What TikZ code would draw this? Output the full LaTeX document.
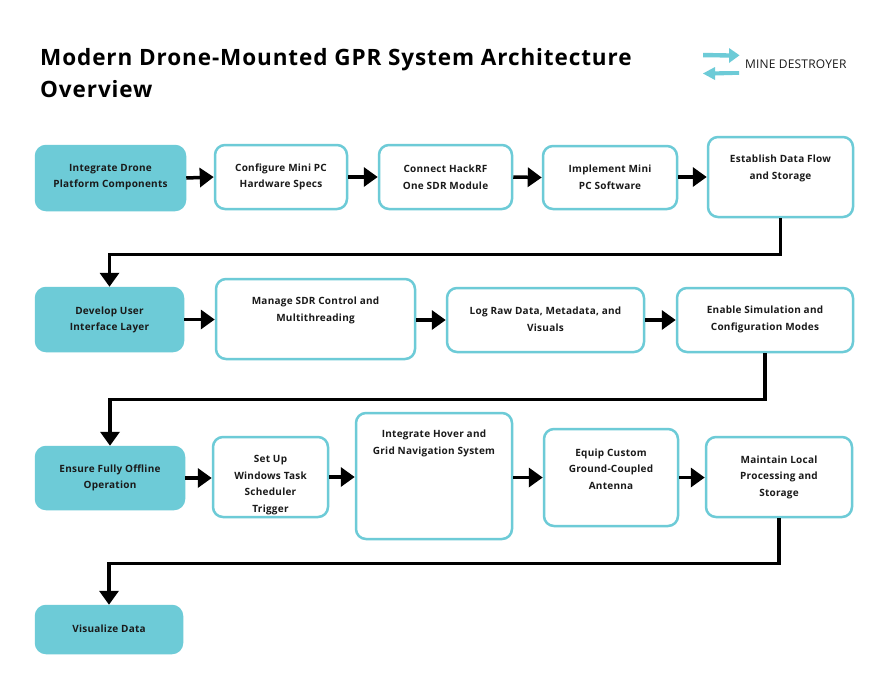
\documentclass[tikz,border=0pt]{standalone}
\usepackage{fontspec}
\setmainfont{Open Sans}
\usetikzlibrary{arrows.meta}
\definecolor{teal1}{HTML}{6DCBD7}
\definecolor{ink}{HTML}{1A1A1A}
\tikzset{
  box/.style={draw=teal1, line width=2.5pt, rounded corners=10pt, fill=white, inner sep=0pt},
  fbox/.style={box, fill=teal1},
  btext/.style={align=center, text=ink, font=\bfseries\fontsize{10}{16.6}\selectfont\addfontfeatures{LetterSpace=2.5}, inner sep=0pt},
  conn/.style={line width=3.5pt, -{Triangle[length=14pt,width=19pt]}},
  logoarrow/.style={fill=teal1, draw=none},
  ttext/.style={anchor=base west, inner sep=0pt, font=\bfseries\fontsize{22.5}{30}\selectfont\addfontfeatures{LetterSpace=4}},
}
\newcommand{\stepbox}[8]{%
  \node[#1, minimum width=#5pt, minimum height=#6pt] (#2) at (#3,#4) {};
  \node[btext] (#2t) at (#3,#7) {#8};
}
\begin{document}
\begin{tikzpicture}[x=1pt,y=-1pt]
\useasboundingbox[fill=white] (0,0) rectangle (890,689);
% title
\node[ttext] (title1) at (40,65) {Modern Drone-Mounted GPR System Architecture};
\node[ttext] (title2) at (40,97) {Overview};
% logo
\fill[logoarrow] (703,52.8) -- (729,53.3) -- (729,48) -- (739.5,55.3) -- (729,63) -- (729,57.6) -- (703,57.3) -- cycle;
\fill[logoarrow] (739,71) -- (715,71.3) -- (715,67) -- (703,73.5) -- (715,80) -- (715,75.5) -- (739,74.8) -- cycle;
\node[anchor=base west, inner sep=0pt, text=ink, font=\fontsize{12}{14}\selectfont\addfontfeatures{LetterSpace=1.5}] (logo) at (745,68) {MINE DESTROYER};
% row 1
\stepbox{fbox}{A1}{110.5}{178}{149}{64}{177}{Integrate Drone\\Platform Components}
\stepbox{box}{A2}{281}{177}{132}{64}{177}{Configure Mini PC\\Hardware Specs}
\stepbox{box}{A3}{445.5}{177}{133}{64}{177}{Connect HackRF\\One SDR Module}
\stepbox{box}{A4}{610}{177.5}{134}{63}{177}{Implement Mini\\PC Software}
\stepbox{box}{A5}{780.5}{177}{145}{80}{168.5}{Establish Data Flow\\and Storage}
% row 2
\stepbox{fbox}{B1}{109.5}{319.5}{147}{63}{320}{Develop User\\Interface Layer}
\stepbox{box}{B2}{315.5}{319}{199}{80}{310.5}{Manage SDR Control and\\Multithreading}
\stepbox{box}{B3}{545.5}{320}{197}{64}{319.5}{Log Raw Data, Metadata, and\\Visuals}
\stepbox{box}{B4}{765}{320}{176}{64}{319.5}{Enable Simulation and\\Configuration Modes}
% row 3
\stepbox{fbox}{C1}{110}{478}{148}{62}{478}{Ensure Fully Offline\\Operation}
\stepbox{box}{C2}{270.5}{477}{115}{80}{485}{Set Up\\Windows Task\\Scheduler\\Trigger}
\stepbox{box}{C3}{434}{476}{156}{126}{443.5}{Integrate Hover and\\Grid Navigation System}
\stepbox{box}{C4}{611}{477.5}{134}{97}{469}{Equip Custom\\Ground-Coupled\\Antenna}
\stepbox{box}{C5}{779}{477}{146}{80}{477}{Maintain Local\\Processing and\\Storage}
% row 4
\stepbox{fbox}{D1}{109}{629.5}{146}{47}{629}{Visualize Data}
% connectors
\draw[conn] (A1.east) -- (A2.west);
\draw[conn] (A2.east) -- (A3.west);
\draw[conn] (A3.east) -- (A4.west);
\draw[conn] (A4.east |- A3.east) -- (A5.west |- A3.east);
\draw[conn] (A5.south) -- ++(0,36) -| (B1.north);
\draw[conn] (B1.east) -- (B2.west |- B1.east);
\draw[conn] (B2.east |- B3.west) -- (B3.west);
\draw[conn] (B3.east) -- (B4.west);
\draw[conn] (B4.south) -- ++(0,46) -| (C1.north);
\draw[conn] (C1.east) -- (C2.west |- C1.east);
\draw[conn] (C2.east) -- (C3.west |- C2.east);
\draw[conn] (C3.east |- C4.west) -- (C4.west);
\draw[conn] (C4.east) -- (C5.west |- C4.east);
\draw[conn] (C5.south) -- ++(0,45) -| (D1.north);
\end{tikzpicture}
\end{document}
